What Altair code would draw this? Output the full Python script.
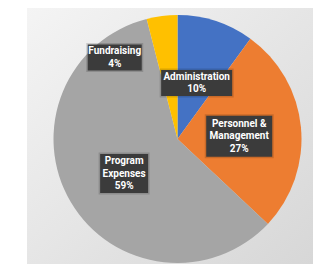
import altair as alt
import pandas as pd

# ---- data ----
categories = ["Administration", "Personnel & Management", "Program Expenses", "Fundraising"]
values = [10, 27, 59, 4]
label_names = ["Administration", "Personnel &\nManagement", "Program\nExpenses", "Fundraising"]
colors = ["#4472C4", "#ED7D31", "#A5A5A5", "#FFC000"]

df = pd.DataFrame({
    "category": categories,
    "value": values,
    "idx": list(range(len(categories))),
    "label": [f"{n}\n{v}%" for n, v in zip(label_names, values)],
})

# ---- layout / style ----
W, H = 286, 256
CX, CY = 150.5, 131
R_PIE = 124
R_LAB = 62
LOY = 3  # label group drop
FONT = "Roboto"
FS = 10
LH = 12.5
BOX = "#3b3b3b"
# label box outlines (unit = 40px with size 6400); Fundraising box is moved out of its slice
box_paths = [
    "M-0.8875,-0.325H0.8875V0.325H-0.8875Z",
    "M-0.825,-0.5125H0.825V0.5125H-0.825Z",
    "M-0.6,-0.4875H0.6V0.4875H-0.6Z",
    "M-2.05,-0.9H-0.7V-0.25H-2.05Z",
]

base = alt.Chart(df)

bg = base.mark_rect(
    fill={
        "gradient": "linear", "x1": 0, "y1": 0, "x2": 1, "y2": 1,
        "stops": [{"offset": 0, "color": "#f4f4f4"}, {"offset": 1, "color": "#d7d7d7"}],
    }
).encode(x=alt.value(0), x2=alt.value(W), y=alt.value(0), y2=alt.value(H))

pie = base.mark_arc(radius=R_PIE).encode(
    theta=alt.Theta("value:Q", stack=True),
    order=alt.Order("idx:Q"),
    color=alt.Color("category:N", scale=alt.Scale(domain=categories, range=colors), legend=None),
    x=alt.value(CX),
    y=alt.value(CY),
)

pos = base.transform_window(
    cum="sum(value)", sort=[alt.SortField("idx", order="ascending")]
).transform_joinaggregate(
    total="sum(value)"
).transform_calculate(
    mid="2*PI*(datum.cum - datum.value/2)/datum.total",
    nlines="length(split(datum.label, '\\n'))",
).transform_calculate(
    lx=f"{CX} + {R_LAB}*sin(datum.mid)",
    ly=f"{CY + LOY} - {R_LAB}*cos(datum.mid)",
)

enc_xy = dict(
    x=alt.X("lx:Q", scale=None, axis=None),
    y=alt.Y("ly:Q", scale=None, axis=None),
)

box_shape = alt.Shape("category:N", scale=alt.Scale(domain=categories, range=box_paths), legend=None)

shadow = pos.mark_point(
    filled=True, size=6400, opacity=1, fill="#000000", fillOpacity=0.0,
    stroke="#000000", strokeOpacity=0.15, strokeWidth=3,
).encode(shape=box_shape, **enc_xy)

boxes = pos.mark_point(filled=True, size=6400, opacity=1, color=BOX, strokeWidth=0).encode(
    shape=box_shape, **enc_xy,
)

txt_kw = dict(color="white", font=FONT, fontWeight="bold", fontSize=FS,
              lineBreak="\n", lineHeight=LH, align="center", baseline="middle")

text2 = pos.transform_filter(
    "datum.category != 'Fundraising' && datum.nlines == 2"
).mark_text(dy=-LH / 2, **txt_kw).encode(text="label:N", **enc_xy)
text3 = pos.transform_filter(
    "datum.category != 'Fundraising' && datum.nlines == 3"
).mark_text(dy=-LH, **txt_kw).encode(text="label:N", **enc_xy)
text_fund = pos.transform_filter(
    "datum.category == 'Fundraising'"
).mark_text(dx=-55, dy=-23 - LH / 2, **txt_kw).encode(text="label:N", **enc_xy)

chart = alt.layer(bg, pie, shadow, boxes, text2, text3, text_fund).properties(
    width=W, height=H,
    padding={"left": 19, "top": 0, "right": 0, "bottom": 0},
    autosize=alt.AutoSizeParams(type="none"),
    background="white",
).configure_view(stroke=None)

chart.save("out.html", embed_options={"renderer": "svg", "actions": False})
